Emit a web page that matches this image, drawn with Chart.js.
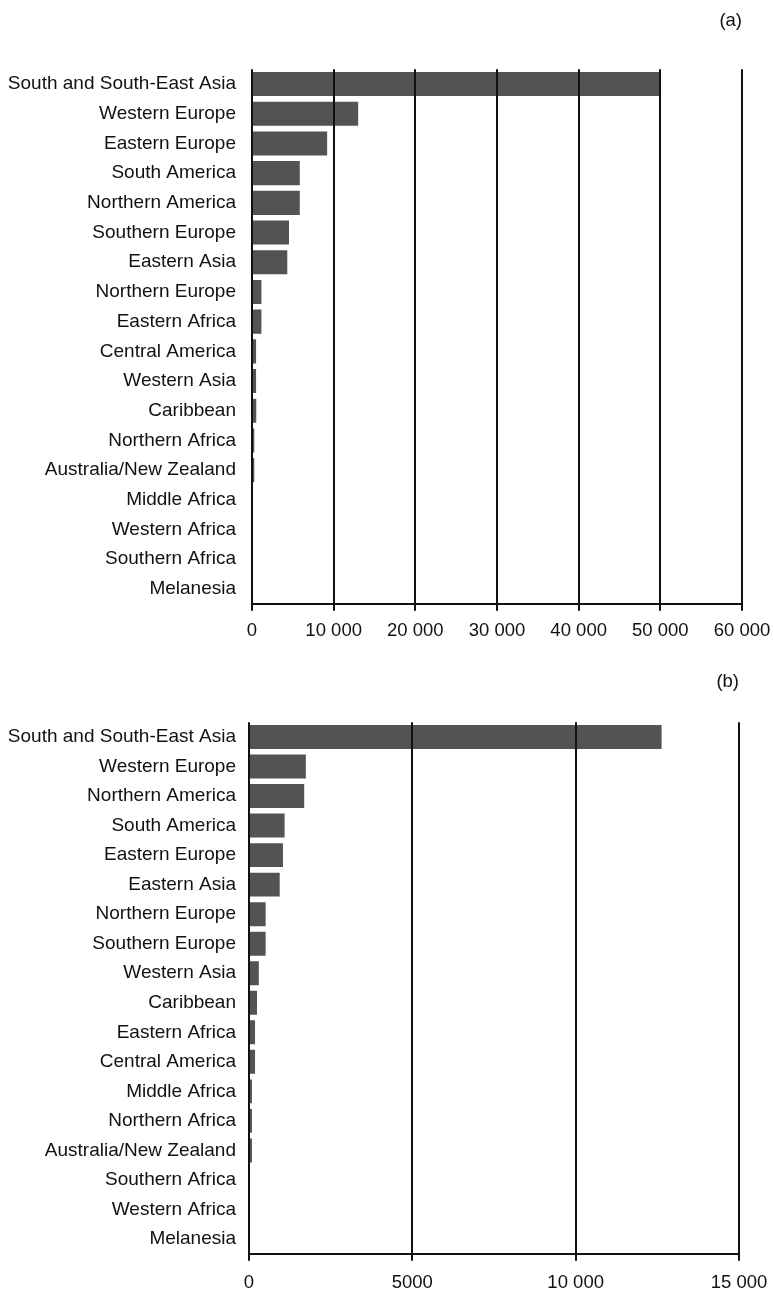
<!DOCTYPE html>
<html>
<head>
<meta charset="utf-8">
<script src="https://cdn.jsdelivr.net/npm/chart.js@4/dist/chart.umd.min.js"></script>
<style>
  html, body { margin: 0; padding: 0; background: #fff; overflow: hidden; }
  .box { position: absolute; left: 0; width: 774px; }
  #wrapA { top: 0; height: 655px; }
  #wrapB { top: 645px; height: 664px; }
</style>
</head>
<body>
<div class="box" id="wrapA"><canvas id="a"></canvas></div>
<div class="box" id="wrapB"><canvas id="b"></canvas></div>
<script>
// (a)
const regionsA = ["South and South-East Asia", "Western Europe", "Eastern Europe", "South America",
  "Northern America", "Southern Europe", "Eastern Asia", "Northern Europe", "Eastern Africa",
  "Central America", "Western Asia", "Caribbean", "Northern Africa", "Australia/New Zealand",
  "Middle Africa", "Western Africa", "Southern Africa", "Melanesia"];
const valuesA = [50000, 13000, 9200, 5850, 5850, 4530, 4320, 1150, 1150, 500, 500, 520, 280, 280, 40, 25, 15, 5];
const ticksA = ["0", "10 000", "20 000", "30 000", "40 000", "50 000", "60 000"];

// (b)
const regionsB = ["South and South-East Asia", "Western Europe", "Northern America", "South America",
  "Eastern Europe", "Eastern Asia", "Northern Europe", "Southern Europe", "Western Asia",
  "Caribbean", "Eastern Africa", "Central America", "Middle Africa", "Northern Africa",
  "Australia/New Zealand", "Southern Africa", "Western Africa", "Melanesia"];
const valuesB = [12630, 1740, 1690, 1090, 1040, 940, 510, 510, 300, 245, 185, 185, 90, 90, 90, 20, 15, 5];
const ticksB = ["0", "5000", "10 000", "15 000"];

const fam = "Liberation Sans, Arial, sans-serif";
const ink = "#111";

function makeChart(id, labels, values, tickLabels, max, step, letter, opt) {
  return new Chart(document.getElementById(id).getContext("2d"), {
    type: "bar",
    data: {
      labels: labels,
      datasets: [{
        data: values,
        backgroundColor: "#535353",
        borderWidth: 0,
        barPercentage: 0.9,
        categoryPercentage: 0.9,
      }],
    },
    options: {
      indexAxis: "y",
      responsive: true,
      maintainAspectRatio: false,
      animation: false,
      layout: { padding: { left: 0, right: opt.right, top: 0, bottom: opt.bottom } },
      plugins: {
        legend: { display: false },
        tooltip: { enabled: false },
        title: {
          display: true,
          text: letter,
          align: "end",
          color: ink,
          font: { family: fam, size: 18.5, weight: "normal" },
          padding: { top: opt.titleTop, bottom: opt.titleBottom },
        },
      },
      scales: {
        x: {
          min: 0,
          max: max,
          ticks: {
            stepSize: step,
            color: ink,
            font: { family: fam, size: 18.5 },
            padding: opt.tickPad,
            maxRotation: 0,
            callback: (v, i) => tickLabels[i],
          },
          grid: { color: ink, lineWidth: 2, tickLength: 7, z: 1 },
          border: { display: true, color: ink, width: 2, z: 1 },
          // let the layout padding decide the right edge, not the last label
          afterFit: (scale) => { scale.paddingRight = 0; scale.paddingLeft = 0; },
        },
        y: {
          grid: { display: false, drawTicks: false },
          border: { display: false },
          ticks: { color: ink, font: { family: fam, size: 19 }, padding: opt.labelPad, autoSkip: false },
          afterFit: (scale) => { scale.width = opt.left; },
        },
      },
    },
  });
}

makeChart("a", regionsA, valuesA, ticksA, 60000, 10000, "(a)",
  { left: 252, right: 32, bottom: 4, titleTop: 10, titleBottom: 37, tickPad: 9, labelPad: 16 });
makeChart("b", regionsB, valuesB, ticksB, 15000, 5000, "(b)",
  { left: 249, right: 35, bottom: 4, titleTop: 26, titleBottom: 29, tickPad: 11, labelPad: 13 });
</script>
</body>
</html>
